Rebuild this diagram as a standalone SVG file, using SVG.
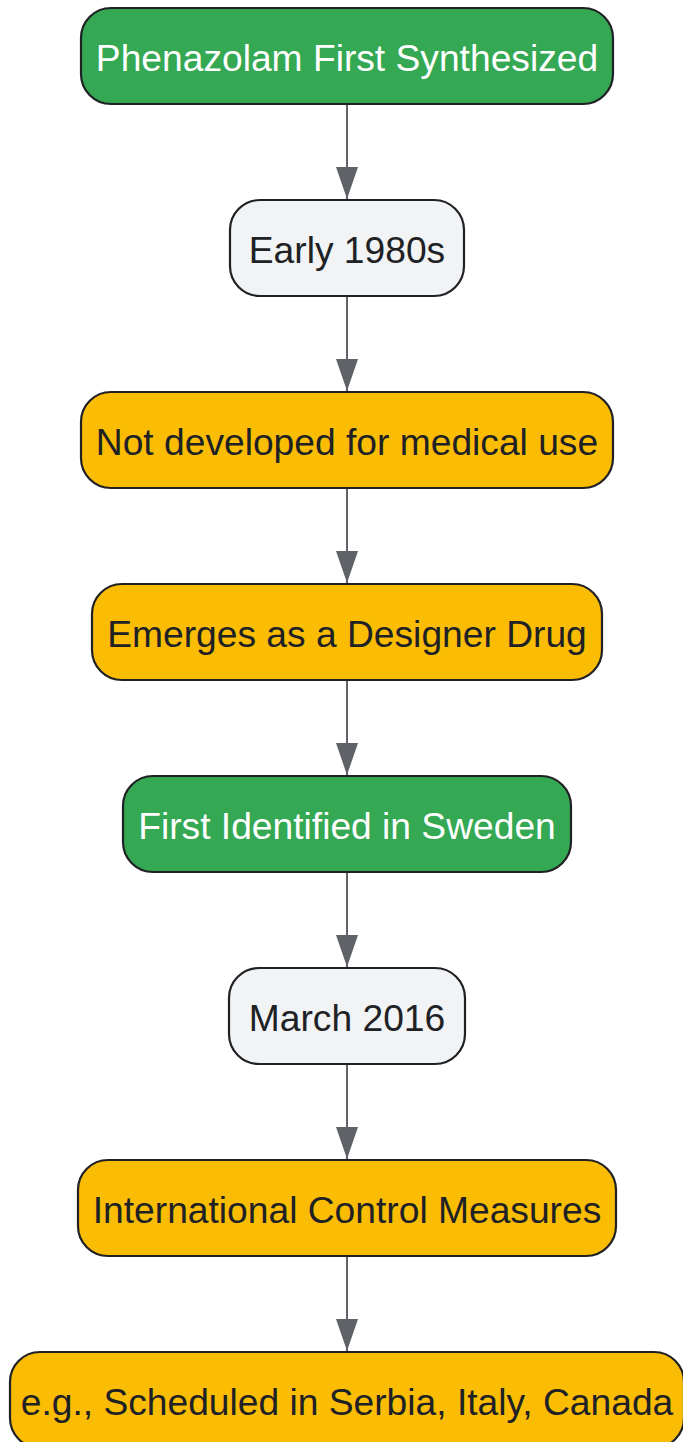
<svg xmlns="http://www.w3.org/2000/svg" width="683" height="1442" viewBox="0 0 683 1442">
<style>
.n rect{stroke:#202124;stroke-width:2.2}
.g rect{fill:#34a853}
.y rect{fill:#fbbc04}
.w rect{fill:#f1f3f4}
text{font-family:"Liberation Sans",Arial,sans-serif;font-size:37.2px;text-anchor:middle;fill:#202124}
.g text{fill:#ffffff}
.e line{stroke:#5f6368;stroke-width:2}
</style>
<defs>
<marker id="ah" markerUnits="userSpaceOnUse" markerWidth="32" markerHeight="22" refX="32" refY="11" orient="auto">
<path d="M0,0 L32,11 L0,22 Z" fill="#5f6368"/>
</marker>
</defs>
<g class="e" id="connectors">
<line x1="347" y1="104" x2="347" y2="199" marker-end="url(#ah)"/>
<line x1="347" y1="296" x2="347" y2="391" marker-end="url(#ah)"/>
<line x1="347" y1="488" x2="347" y2="583" marker-end="url(#ah)"/>
<line x1="347" y1="680" x2="347" y2="775" marker-end="url(#ah)"/>
<line x1="347" y1="872" x2="347" y2="967" marker-end="url(#ah)"/>
<line x1="347" y1="1064" x2="347" y2="1159" marker-end="url(#ah)"/>
<line x1="347" y1="1256" x2="347" y2="1351" marker-end="url(#ah)"/>
</g>
<g id="n1" class="n g"><rect x="81" y="8" width="532" height="96" rx="30"/><text x="347" y="71">Phenazolam First Synthesized</text></g>
<g id="n2" class="n w"><rect x="230" y="200" width="234" height="96" rx="30"/><text x="347" y="263">Early 1980s</text></g>
<g id="n3" class="n y"><rect x="81" y="392" width="532" height="96" rx="30"/><text x="347" y="455">Not developed for medical use</text></g>
<g id="n4" class="n y"><rect x="92" y="584" width="510" height="96" rx="30"/><text x="347" y="647">Emerges as a Designer Drug</text></g>
<g id="n5" class="n g"><rect x="123" y="776" width="448" height="96" rx="30"/><text x="347" y="839">First Identified in Sweden</text></g>
<g id="n6" class="n w"><rect x="229" y="968" width="236" height="96" rx="30"/><text x="347" y="1031">March 2016</text></g>
<g id="n7" class="n y"><rect x="78" y="1160" width="538" height="96" rx="30"/><text x="347" y="1223">International Control Measures</text></g>
<g id="n8" class="n y"><rect x="10" y="1352" width="674" height="96" rx="30"/><text x="347" y="1415">e.g., Scheduled in Serbia, Italy, Canada</text></g>
</svg>
